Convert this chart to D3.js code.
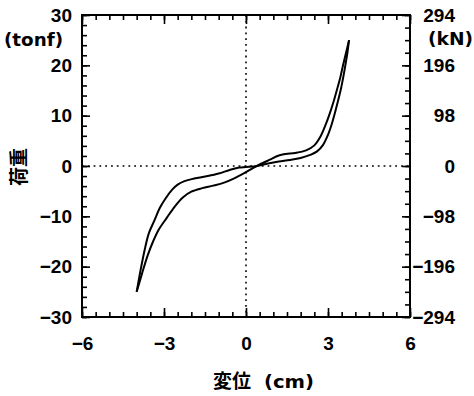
<!DOCTYPE html>
<html>
<head>
<meta charset="utf-8">
<script src="https://cdn.jsdelivr.net/npm/d3@7"></script>
<style>
  body { margin: 0; background: #fff; }
  text { fill: #000; }
</style>
</head>
<body>
<svg id="chart" width="474" height="396"></svg>
<script>
// branch A: upper side for negative displacement, lower side for positive
const dispA = [-4.00, -3.85, -3.70, -3.55, -3.35, -3.15, -2.95, -2.70, -2.50, -2.25, -1.90, -1.40, -1.00, -0.60, -0.25, 0.00, 0.40, 0.80, 1.20, 1.60, 2.00, 2.35, 2.60, 2.82, 3.00, 3.13, 3.25, 3.37, 3.48, 3.57, 3.65, 3.71, 3.77];
const loadA = [-25.0, -20.5, -16.5, -13.3, -10.8, -8.3, -6.5, -4.7, -3.7, -3.0, -2.5, -2.0, -1.5, -0.8, -0.3, -0.2, 0.0, 0.5, 0.9, 1.2, 1.6, 2.2, 2.9, 4.2, 6.2, 8.2, 10.5, 13.0, 15.5, 18.0, 20.5, 22.5, 25.0];
// branch B: lower side for negative displacement, upper side (with hump) for positive
const dispB = [-4.00, -3.80, -3.60, -3.40, -3.20, -2.90, -2.60, -2.30, -2.00, -1.60, -1.20, -0.80, -0.45, -0.20, 0.00, 0.25, 0.50, 0.85, 1.20, 1.45, 1.80, 2.20, 2.50, 2.72, 2.90, 3.05, 3.20, 3.33, 3.45, 3.55, 3.66, 3.77];
const loadB = [-25.0, -21.3, -17.8, -15.0, -12.7, -10.3, -8.0, -6.2, -5.1, -4.4, -3.9, -3.3, -2.5, -1.8, -1.2, -0.4, 0.3, 1.2, 2.1, 2.4, 2.6, 3.1, 4.1, 5.8, 8.0, 10.2, 12.7, 15.2, 17.6, 20.0, 22.5, 25.0];

const xMajor = [-6, -3, 0, 3, 6];
const yMajor = [-30, -20, -10, 0, 10, 20, 30];
const knMajor = [-294, -196, -98, 0, 98, 196, 294];

const svg = d3.select("#chart");
const plotLeft = 82, plotRight = 410, plotTop = 15, plotBottom = 317;

const x = d3.scaleLinear().domain([-6, 6]).range([plotLeft, plotRight]);
const y = d3.scaleLinear().domain([-30, 30]).range([plotBottom, plotTop]);
const yKN = d3.scaleLinear().domain([-294, 294]).range([plotBottom, plotTop]);

const numFont = "'Liberation Sans', Arial, sans-serif";
const unitFont = "'DejaVu Sans', sans-serif";
const cjkFont = "'Noto Sans CJK JP', sans-serif";

// dotted zero lines
svg.append("line")
    .attr("x1", x(0)).attr("x2", x(0))
    .attr("y1", plotTop).attr("y2", plotBottom)
    .attr("stroke", "#000").attr("stroke-width", 1.6)
    .attr("stroke-dasharray", "1.8,4");
svg.append("line")
    .attr("x1", plotLeft).attr("x2", plotRight)
    .attr("y1", y(0)).attr("y2", y(0))
    .attr("stroke", "#000").attr("stroke-width", 1.6)
    .attr("stroke-dasharray", "1.8,4");

// helper to style an axis group
function styleAxis(g) {
    g.select(".domain").remove();
    g.selectAll(".tick line").attr("stroke", "#000").attr("stroke-width", 1.6);
    g.attr("font-family", numFont).attr("font-size", 19).attr("font-weight", "bold");
    g.selectAll("text").attr("fill", "#000");
}

// bottom & top
svg.append("g").attr("transform", `translate(0,${plotBottom})`)
    .call(d3.axisBottom(x).tickValues(d3.range(-6, 6.01, 0.5)).tickSize(-5).tickFormat(""))
    .call(styleAxis);
svg.append("g").attr("transform", `translate(0,${plotBottom})`)
    .call(d3.axisBottom(x).tickValues(xMajor).tickSize(-9).tickPadding(20).tickSizeOuter(0))
    .call(styleAxis);
svg.append("g").attr("transform", `translate(0,${plotTop})`)
    .call(d3.axisTop(x).tickValues(d3.range(-6, 6.01, 0.5)).tickSize(-5).tickFormat(""))
    .call(styleAxis);
svg.append("g").attr("transform", `translate(0,${plotTop})`)
    .call(d3.axisTop(x).tickValues(xMajor).tickSize(-9).tickFormat(""))
    .call(styleAxis);

// left (tonf)
svg.append("g").attr("transform", `translate(${plotLeft},0)`)
    .call(d3.axisLeft(y).tickValues(d3.range(-30, 30.01, 2)).tickSize(-5).tickFormat(""))
    .call(styleAxis);
svg.append("g").attr("transform", `translate(${plotLeft},0)`)
    .call(d3.axisLeft(y).tickValues(yMajor).tickSize(-8).tickPadding(10))
    .call(styleAxis);

// right (kN)
svg.append("g").attr("transform", `translate(${plotRight},0)`)
    .call(d3.axisRight(yKN).tickValues(d3.range(-294, 294.01, 24.5)).tickSize(-5).tickFormat(""))
    .call(styleAxis);
svg.append("g").attr("transform", `translate(${plotRight},0)`)
    .call(d3.axisRight(yKN).tickValues(knMajor).tickSize(-8))
    .call(styleAxis)
    .call(g => g.selectAll("text").attr("text-anchor", "end").attr("x", 45));

// frame
svg.append("rect")
    .attr("x", plotLeft).attr("y", plotTop)
    .attr("width", plotRight - plotLeft).attr("height", plotBottom - plotTop)
    .attr("fill", "none").attr("stroke", "#000").attr("stroke-width", 2);

// hysteresis branches
const line = d3.line()
    .x(d => x(d[0]))
    .y(d => y(d[1]))
    .curve(d3.curveCatmullRom.alpha(0.5));

[[dispA, loadA], [dispB, loadB]].forEach(([ds, fs]) => {
    svg.append("path")
        .datum(ds.map((d, i) => [d, fs[i]]))
        .attr("d", line)
        .attr("fill", "none")
        .attr("stroke", "#000")
        .attr("stroke-width", 2)
        .attr("stroke-linejoin", "round");
});

// unit labels
svg.append("text")
    .attr("x", 4).attr("y", 46)
    .attr("font-family", unitFont).attr("font-size", 18).attr("font-weight", "bold")
    .attr("textLength", 59).attr("lengthAdjust", "spacingAndGlyphs")
    .text("(tonf)");
svg.append("text")
    .attr("x", 428).attr("y", 45)
    .attr("font-family", unitFont).attr("font-size", 18).attr("font-weight", "bold")
    .attr("textLength", 45).attr("lengthAdjust", "spacingAndGlyphs")
    .text("(kN)");

// axis titles
svg.append("text")
    .attr("x", 213).attr("y", 388)
    .attr("font-family", cjkFont).attr("font-size", 19).attr("font-weight", "bold")
    .text("変位");
svg.append("text")
    .attr("x", 264).attr("y", 388)
    .attr("font-family", unitFont).attr("font-size", 18).attr("font-weight", "bold")
    .attr("textLength", 50).attr("lengthAdjust", "spacingAndGlyphs")
    .text("(cm)");

svg.append("text")
    .attr("transform", "translate(26,167) rotate(-90)")
    .attr("text-anchor", "middle")
    .attr("font-family", cjkFont).attr("font-size", 19).attr("font-weight", "bold")
    .text("荷重");
</script>
</body>
</html>
